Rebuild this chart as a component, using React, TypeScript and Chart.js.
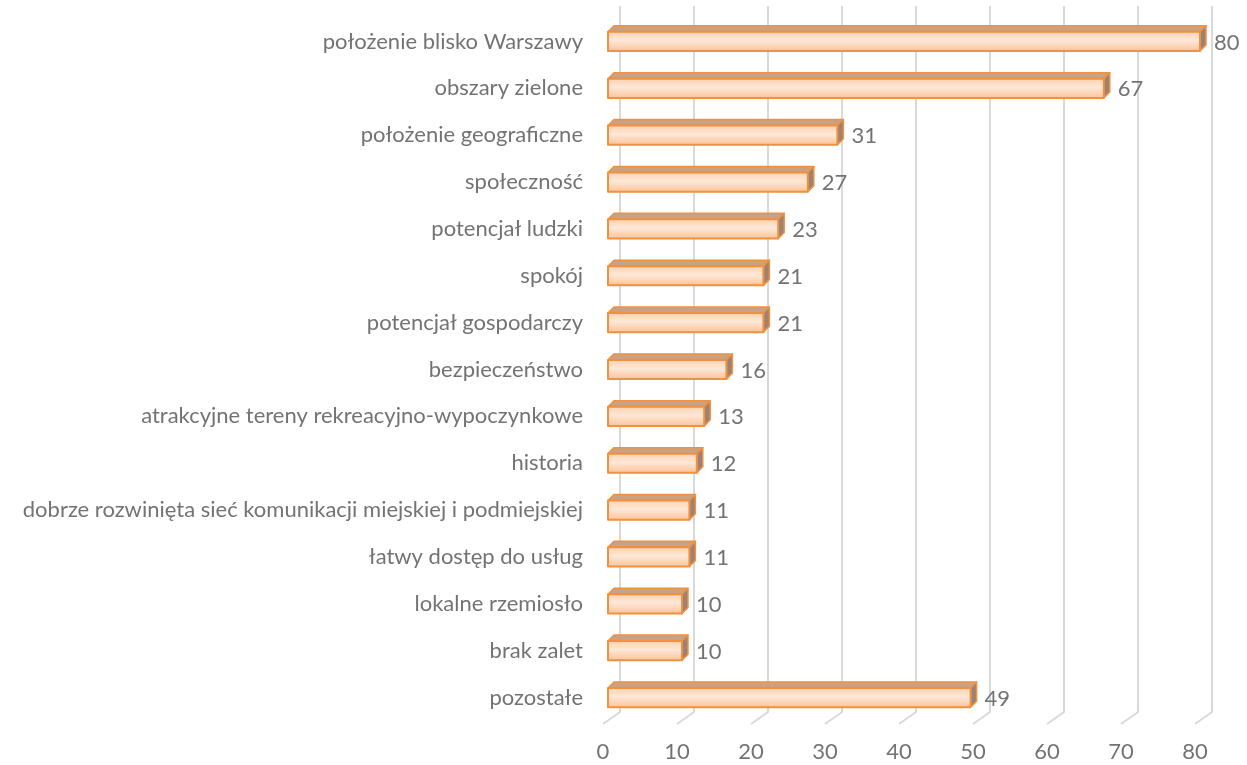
import React, { useEffect, useRef } from "react";
import { Chart, registerables } from "chart.js";

Chart.register(...registerables);

const categories = [
  "położenie blisko Warszawy",
  "obszary zielone",
  "położenie geograficzne",
  "społeczność",
  "potencjał ludzki",
  "spokój",
  "potencjał gospodarczy",
  "bezpieczeństwo",
  "atrakcyjne tereny rekreacyjno-wypoczynkowe",
  "historia",
  "dobrze rozwinięta sieć komunikacji miejskiej i podmiejskiej",
  "łatwy dostęp do usług",
  "lokalne rzemiosło",
  "brak zalet",
  "pozostałe",
];
const values = [80, 67, 31, 27, 23, 21, 21, 16, 13, 12, 11, 11, 10, 10, 49];
const xTicks = [0, 10, 20, 30, 40, 50, 60, 70, 80];

const TEXT = "#737373";
const FONT = "Lato, 'Open Sans', sans-serif";
const FS = 22;
const D = 6; // bar depth
const WALL_DX = 12;
const FRONT_DX = -5;

const threeD = {
  id: "threeD",
  beforeDatasetsDraw(chart: any) {
    const ctx = chart.ctx;
    const xs = chart.scales.x;
    ctx.save();
    ctx.strokeStyle = "#d9d9d9";
    ctx.lineWidth = 2;
    for (const v of xTicks) {
      const px = xs.getPixelForValue(v);
      ctx.beginPath();
      ctx.moveTo(px + WALL_DX, 6);
      ctx.lineTo(px + WALL_DX, 712);
      ctx.lineTo(px + FRONT_DX, 724);
      ctx.stroke();
    }
    ctx.restore();
  },
  afterDatasetsDraw(chart: any) {
    const ctx = chart.ctx;
    const meta = chart.getDatasetMeta(0);
    ctx.save();
    meta.data.forEach((el: any, i: number) => {
      const { x, y, base, height } = el.getProps(["x", "y", "base", "height"], true);
      const top = y - height / 2;
      const bot = y + height / 2;
      ctx.lineJoin = "round";
      // top face
      ctx.beginPath();
      ctx.moveTo(base, top);
      ctx.lineTo(base + D, top - D);
      ctx.lineTo(x + D, top - D);
      ctx.lineTo(x, top);
      ctx.closePath();
      ctx.fillStyle = "#c9a286";
      ctx.fill();
      ctx.strokeStyle = "#f0913f";
      ctx.lineWidth = 1.5;
      ctx.stroke();
      // side face
      ctx.beginPath();
      ctx.moveTo(x, top);
      ctx.lineTo(x + D, top - D);
      ctx.lineTo(x + D, bot - D);
      ctx.lineTo(x, bot);
      ctx.closePath();
      ctx.fillStyle = "#9c8274";
      ctx.fill();
      ctx.stroke();
      // front face
      const g = ctx.createLinearGradient(0, top, 0, bot);
      g.addColorStop(0, "#fcd2b0");
      g.addColorStop(0.45, "#fde8d8");
      g.addColorStop(1, "#fbc49a");
      ctx.fillStyle = g;
      ctx.fillRect(base, top, x - base, bot - top);
      ctx.lineWidth = 2;
      ctx.strokeStyle = "#f0913f";
      ctx.strokeRect(base, top, x - base, bot - top);
      // label
      ctx.fillStyle = TEXT;
      ctx.font = `${FS}px ${FONT}`;
      ctx.textAlign = "left";
      ctx.textBaseline = "middle";
      ctx.fillText(String(values[i]), x + D + 8, y + 1);
    });
    ctx.restore();
  },
};

export default function App() {
  const ref = useRef<HTMLCanvasElement>(null);
  useEffect(() => {
    const chart = new Chart(ref.current!, {
      type: "bar",
      data: {
        labels: categories,
        datasets: [
          {
            data: values,
            backgroundColor: "rgba(0,0,0,0)",
            borderWidth: 0,
            barPercentage: 0.41,
            categoryPercentage: 1,
          },
        ],
      },
      options: {
        indexAxis: "y",
        responsive: false,
        animation: false,
        layout: { padding: { left: 0, right: 47, top: 18, bottom: 0 } },
        plugins: { legend: { display: false }, tooltip: { enabled: false } },
        scales: {
          x: {
            min: 0,
            max: 80,
            afterBuildTicks: (s: any) => {
              s.ticks = xTicks.map((v) => ({ value: v }));
            },
            afterFit: (s: any) => {
              s.height = 44;
              s.paddingLeft = 0;
              s.paddingRight = 0;
            },
            grid: { display: false },
            border: { display: false },
            ticks: {
              color: TEXT,
              font: { size: FS, family: FONT },
              labelOffset: -5,
              padding: 10,
            },
          },
          y: {
            afterFit: (s: any) => {
              s.width = 608;
              s.paddingTop = 0;
              s.paddingBottom = 0;
            },
            grid: { display: false },
            border: { display: false },
            ticks: {
              color: TEXT,
              font: { size: FS, family: FONT },
              padding: 17,
              autoSkip: false,
            },
          },
        },
      },
      plugins: [threeD],
    });
    return () => chart.destroy();
  }, []);
  return (
    <div style={{ position: "fixed", left: 0, top: 0, width: 1247, height: 765, background: "#fff" }}>
      <canvas ref={ref} width={1247} height={765} style={{ width: 1247, height: 765 }} />
    </div>
  );
}
